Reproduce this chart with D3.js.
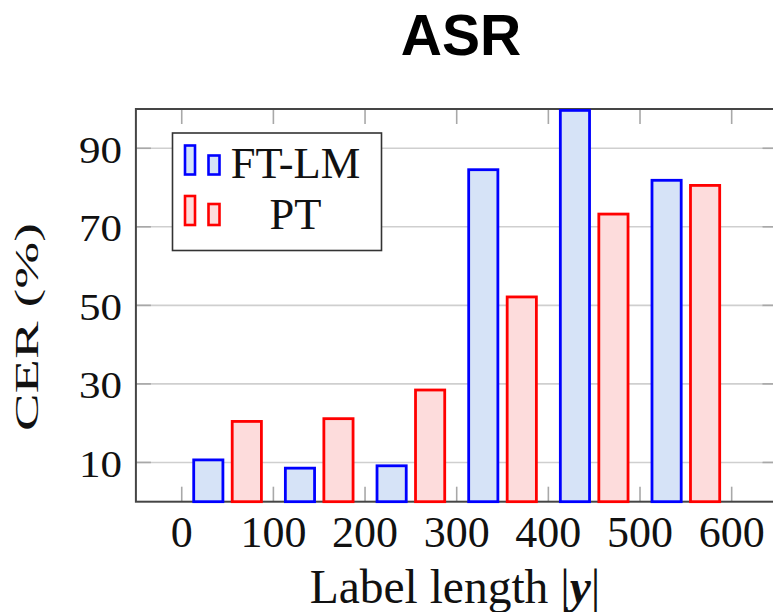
<!DOCTYPE html>
<html>
<head>
<meta charset="utf-8">
<script src="https://cdn.jsdelivr.net/npm/d3@7/dist/d3.min.js"></script>
<style>
  html, body { margin: 0; padding: 0; background: #fff; }
  svg { display: block; }
</style>
</head>
<body>
<svg id="chart" width="773" height="612"></svg>
<script>
// ---- data ----
const categories = [50, 150, 250, 350, 450, 550];   // bin centres of label length
const seriesNames = ["FT-LM", "PT"];
const ftlmValues = [11.0, 8.9, 9.5, 84.9, 100, 82.2];
const ptValues   = [20.8, 21.5, 28.8, 52.5, 73.6, 80.9];
const xTickValues = [0, 100, 200, 300, 400, 500, 600];
const yTickValues = [10, 30, 50, 70, 90];
const titleText = "ASR";
const yLabelText = "CER (%)";

(function () {
// ---- layout ----
const svg = d3.select("#chart");
const pL = 135.9, pR = 777.5, pT = 109, pB = 501.7;
const x = d3.scaleLinear().domain([-50, 650]).range([pL, pR]);
const y = d3.scaleLinear().domain([0, 100]).range([pB, pT]);

const serif = "'Liberation Serif', 'Times New Roman', serif";
const barW = 32;        // px, outer width
const shift = 21;       // data units from bin centre
const series = [
  { name: seriesNames[0], values: ftlmValues, stroke: "#0000ff", fill: "#d6e3f7", off: -shift },
  { name: seriesNames[1], values: ptValues,   stroke: "#ff0000", fill: "#fddcdc", off: shift }
];

// clip
svg.append("defs").append("clipPath").attr("id", "plotclip")
  .append("rect").attr("x", pL).attr("y", pT - 2)
  .attr("width", pR - pL).attr("height", pB - pT + 4);

// grid lines
const grid = svg.append("g");
grid.selectAll("line").data(yTickValues).join("line")
  .attr("x1", pL).attr("x2", pR)
  .attr("y1", d => y(d)).attr("y2", d => y(d))
  .attr("stroke", "#cfcfcf").attr("stroke-width", 1.6);

// ticks (inward, gray)
const tickLen = 15;
const ticks = svg.append("g").attr("stroke", "#a8a8a8").attr("stroke-width", 1.6);
xTickValues.forEach(v => {
  ticks.append("line").attr("x1", x(v)).attr("x2", x(v)).attr("y1", pB).attr("y2", pB - tickLen);
  ticks.append("line").attr("x1", x(v)).attr("x2", x(v)).attr("y1", pT).attr("y2", pT + tickLen);
});
yTickValues.forEach(v => {
  ticks.append("line").attr("x1", pL).attr("x2", pL + tickLen).attr("y1", y(v)).attr("y2", y(v));
  ticks.append("line").attr("x1", pR).attr("x2", pR - tickLen).attr("y1", y(v)).attr("y2", y(v));
});

// frame
svg.append("rect").attr("x", pL).attr("y", pT)
  .attr("width", pR - pL).attr("height", pB - pT)
  .attr("fill", "none").attr("stroke", "#454545").attr("stroke-width", 2);

// bars
const bars = svg.append("g").attr("clip-path", "url(#plotclip)");
series.forEach(s => {
  bars.selectAll(null).data(categories.map((c, i) => ({ c, v: s.values[i] }))).join("rect")
    .attr("x", d => x(d.c + s.off) - barW / 2 + 1.4)
    .attr("y", d => y(d.v) + 1.4)
    .attr("width", barW - 2.8)
    .attr("height", d => y(0) - y(d.v) - 1.4)
    .attr("fill", s.fill).attr("stroke", s.stroke).attr("stroke-width", 2.8);
});

// x tick labels
svg.append("g").selectAll("text").data(xTickValues).join("text")
  .attr("x", d => x(d)).attr("y", 546.5)
  .attr("text-anchor", "middle")
  .attr("font-family", serif).attr("font-size", 44).attr("fill", "#111")
  .text(d => d);

// y tick labels
svg.append("g").selectAll("text").data(yTickValues).join("text")
  .attr("x", 122).attr("y", d => y(d) + 14.5)
  .attr("text-anchor", "end")
  .attr("font-family", serif).attr("font-size", 37).attr("fill", "#111")
  .attr("textLength", 43).attr("lengthAdjust", "spacingAndGlyphs")
  .text(d => d);

// x axis label
const xl = svg.append("text")
  .attr("x", 455).attr("y", 603)
  .attr("text-anchor", "middle")
  .attr("font-family", serif).attr("font-size", 47.5).attr("fill", "#111");
xl.append("tspan").text("Label length |");
xl.append("tspan").attr("font-weight", "bold").attr("font-style", "italic").text("y");
xl.append("tspan").text("|");

// y axis label
svg.append("text")
  .attr("transform", "translate(38,327) rotate(-90)")
  .attr("text-anchor", "middle")
  .attr("font-family", serif).attr("font-size", 34).attr("fill", "#111")
  .attr("textLength", 208).attr("lengthAdjust", "spacingAndGlyphs")
  .text(yLabelText);

// title
svg.append("text")
  .attr("x", 461).attr("y", 55)
  .attr("text-anchor", "middle")
  .attr("font-family", "'Liberation Sans', Arial, sans-serif")
  .attr("font-weight", "bold").attr("font-size", 57).attr("fill", "#000")
  .text(titleText);

// legend
const lg = svg.append("g");
lg.append("rect").attr("x", 172.5).attr("y", 133).attr("width", 209).attr("height", 117.5)
  .attr("fill", "#fff").attr("stroke", "#333").attr("stroke-width", 1.6);
const rowBase = [174.5, 225];
series.forEach((s, i) => {
  const b = rowBase[i];
  const tallH = 29, shortH = i === 0 ? 19 : 21;
  lg.append("rect").attr("x", 185).attr("y", b - tallH).attr("width", 10).attr("height", tallH)
    .attr("fill", s.fill).attr("stroke", s.stroke).attr("stroke-width", 2.6);
  lg.append("rect").attr("x", 208.5).attr("y", b - shortH).attr("width", 11).attr("height", shortH)
    .attr("fill", s.fill).attr("stroke", s.stroke).attr("stroke-width", 2.6);
  lg.append("text").attr("x", 295.5).attr("y", b + 3.5)
    .attr("text-anchor", "middle")
    .attr("font-family", serif).attr("font-size", 44.5).attr("fill", "#111")
    .text(s.name);
});
})();
</script>
</body>
</html>
